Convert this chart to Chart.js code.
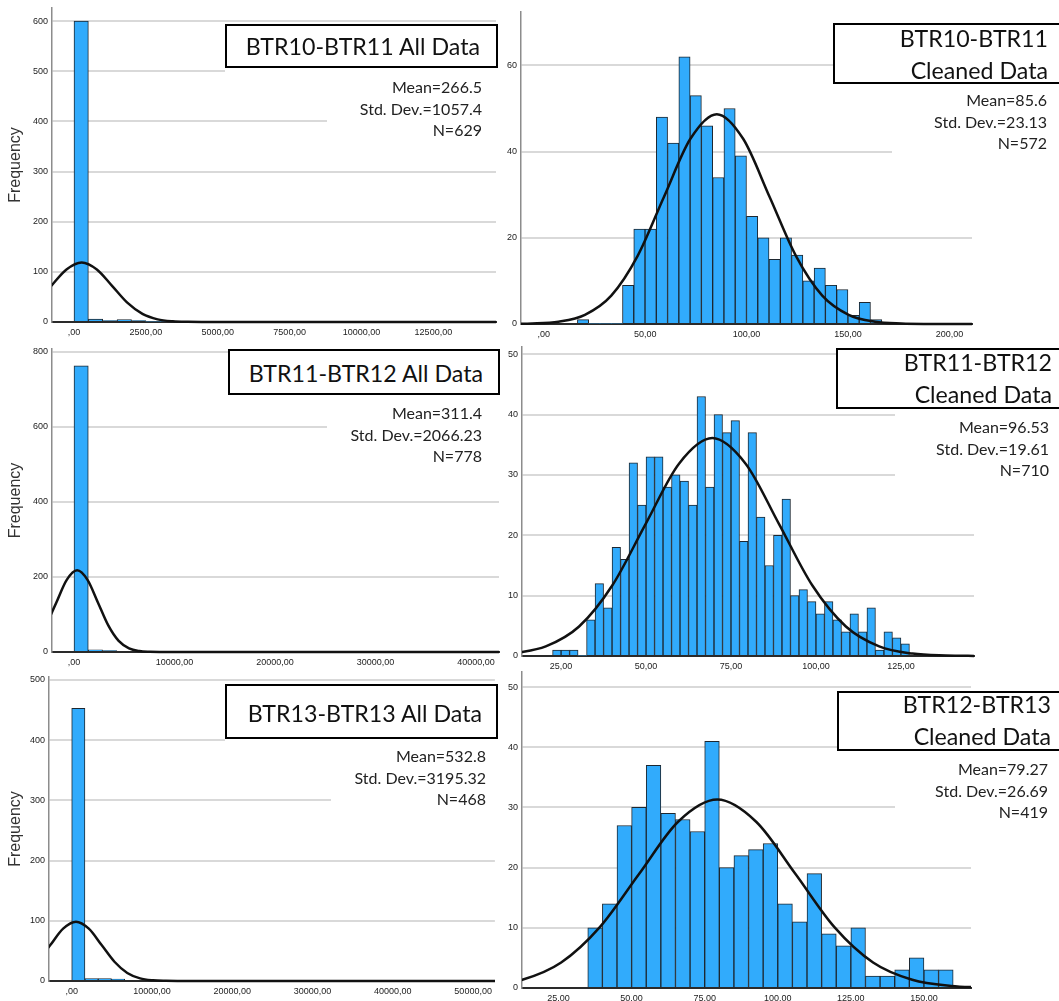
<!DOCTYPE html>
<html>
<head>
<meta charset="utf-8">
<script src="https://cdn.jsdelivr.net/npm/chart.js@4.4.1/dist/chart.umd.min.js"></script>
<style>
  html, body { margin: 0; padding: 0; background: #fff; }
  #page { position: relative; width: 1059px; height: 1001px; overflow: hidden; background: #fff; font-family: Lato, "Open Sans", sans-serif; }
  canvas { position: absolute; }
  .mask { position: absolute; background: #fff; }
  .box { position: absolute; background: #fff; border: 2px solid #000; box-sizing: border-box; }
  .ttl { position: absolute; font-size: 23.2px; line-height: 32px; color: #111; text-align: right; white-space: nowrap; }
  .stats { position: absolute; font-size: 16px; line-height: 21.5px; color: #222; text-align: right; white-space: nowrap; }
</style>
</head>
<body>
<div id="page">
  <!-- BTR10-BTR11 All Data -->
  <div class="mask" style="left:225px;top:24px;width:273px;height:50px"></div>
  <div class="mask" style="left:327px;top:74px;width:171px;height:67px"></div>
  <div class="box" style="left:225px;top:24px;width:273px;height:44px"></div>
  <div class="ttl" style="right:579px;top:30px">BTR10-BTR11 All Data</div>
  <div class="stats" style="right:577px;top:76px">Mean=266.5<br>Std. Dev.=1057.4<br>N=629</div>

  <!-- BTR10-BTR11 Cleaned Data -->
  <div class="mask" style="left:892px;top:86px;width:170px;height:71px"></div>
  <div class="box" style="left:833px;top:23px;width:240px;height:61px"></div>
  <div class="ttl" style="right:11px;top:22px">BTR10-BTR11<br>Cleaned Data</div>
  <div class="stats" style="right:12px;top:89px">Mean=85.6<br>Std. Dev.=23.13<br>N=572</div>

  <!-- BTR11-BTR12 All Data -->
  <div class="mask" style="left:327px;top:400px;width:173px;height:66px"></div>
  <div class="box" style="left:228px;top:349px;width:272px;height:46px"></div>
  <div class="ttl" style="right:576px;top:357px">BTR11-BTR12 All Data</div>
  <div class="stats" style="right:577px;top:402px">Mean=311.4<br>Std. Dev.=2066.23<br>N=778</div>

  <!-- BTR11-BTR12 Cleaned Data -->
  <div class="mask" style="left:895px;top:411px;width:170px;height:70px"></div>
  <div class="box" style="left:836px;top:348px;width:240px;height:61px"></div>
  <div class="ttl" style="right:7px;top:346px">BTR11-BTR12<br>Cleaned Data</div>
  <div class="stats" style="right:10px;top:416px">Mean=96.53<br>Std. Dev.=19.61<br>N=710</div>

  <!-- BTR13-BTR13 All Data -->
  <div class="mask" style="left:225px;top:684px;width:273px;height:59px"></div>
  <div class="mask" style="left:331px;top:743px;width:167px;height:69px"></div>
  <div class="box" style="left:225px;top:684px;width:273px;height:55px"></div>
  <div class="ttl" style="right:577px;top:697px">BTR13-BTR13 All Data</div>
  <div class="stats" style="right:573px;top:745px">Mean=532.8<br>Std. Dev.=3195.32<br>N=468</div>

  <!-- BTR12-BTR13 Cleaned Data -->
  <div class="mask" style="left:895px;top:754px;width:170px;height:62px"></div>
  <div class="box" style="left:837px;top:691px;width:240px;height:60px"></div>
  <div class="ttl" style="right:8px;top:688px">BTR12-BTR13<br>Cleaned Data</div>
  <div class="stats" style="right:11px;top:758px">Mean=79.27<br>Std. Dev.=26.69<br>N=419</div>
</div>
<script>
// ==================== DATA ====================
// BTR10-BTR11 all data: bins of 500 starting at 0
const btr1011AllCounts = [600, 6, 3, 5, 3, 0, 0, 0, 0, 1, 1];
const btr1011AllCurveX = [-1320, -791, -262, 266.5, 795, 1324, 1853, 2381, 2910, 3439, 3967, 4496, 5554, 15000];
const btr1011AllCurveY = [38.5, 72.0, 104.7, 118.7, 104.7, 72.0, 38.5, 16.1, 5.2, 1.3, 0.26, 0.04, 0, 0];
const btr1011AllXTicks = [0, 2500, 5000, 7500, 10000, 12500];
const btr1011AllXLabels = [',00', '2500,00', '5000,00', '7500,00', '10000,00', '12500,00'];
const btr1011AllYTicks = [0, 100, 200, 300, 400, 500, 600];

// BTR10-BTR11 cleaned: 27 bins of 5.556 starting at 16.6
const btr1011CleanCounts = [1, 0, 0, 0, 9, 22, 22, 48, 42, 62, 53, 46, 34, 50, 39, 25, 20, 15, 20, 16, 10, 13, 9, 8, 2, 5, 1];
const btr1011CleanCurveX = [-18.7, -5.7, 7.3, 20.3, 33.3, 46.3, 59.3, 72.3, 85.3, 98.3, 111.3, 124.3, 137.3, 150.3, 163.3, 176.3, 189.3, 215.3];
const btr1011CleanCurveY = [0.02, 0.11, 0.54, 2.14, 6.59, 15.81, 29.54, 42.98, 48.7, 42.98, 29.54, 15.81, 6.59, 2.14, 0.54, 0.11, 0.02, 0];
const btr1011CleanXTicks = [0, 50, 100, 150, 200];
const btr1011CleanXLabels = [',00', '50,00', '100,00', '150,00', '200,00'];
const btr1011CleanYTicks = [0, 20, 40, 60];

// BTR11-BTR12 all data: bins of 1420 starting at 0
const btr1112AllCounts = [763, 6, 4];
const btr1112AllCurveX = [-2788, -1755, -722, 311, 1345, 2378, 3411, 4444, 5477, 6510, 7543, 8576, 10642, 45000];
const btr1112AllCurveY = [70.8, 132.2, 192.4, 218, 192.4, 132.2, 70.8, 29.5, 9.6, 2.4, 0.5, 0.07, 0, 0];
const btr1112AllXTicks = [0, 10000, 20000, 30000, 40000];
const btr1112AllXLabels = [',00', '10000,00', '20000,00', '30000,00', '40000,00'];
const btr1112AllYTicks = [0, 200, 400, 600, 800];

// BTR11-BTR12 cleaned: bins of 2.5 starting at 22.5
const btr1112CleanCounts = [1, 1, 1, 0, 6, 12, 8, 18, 16, 32, 25, 33, 33, 28, 30, 29, 25, 43, 28, 40, 37, 39, 19, 37, 23, 15, 20, 26, 10, 11, 9, 7, 9, 6, 4, 7, 4, 8, 1, 4, 3, 2];
const btr1112CleanCurveX = [10.7, 20.5, 30.3, 40.1, 49.9, 59.7, 69.5, 79.3, 89.1, 98.9, 108.8, 118.6, 128.4, 138.2, 148.0];
const btr1112CleanCurveY = [0.40, 1.59, 4.89, 11.72, 21.90, 31.87, 36.11, 31.87, 21.90, 11.72, 4.89, 1.59, 0.40, 0.08, 0.01];
const btr1112CleanXTicks = [25, 50, 75, 100, 125];
const btr1112CleanXLabels = ['25,00', '50,00', '75,00', '100,00', '125,00'];
const btr1112CleanYTicks = [0, 10, 20, 30, 40, 50];

// BTR13-BTR13 all data: bins of 1650 starting at 0
const btr1313AllCounts = [453, 4, 4, 3];
const btr1313AllCurveX = [-4260, -2663, -1065, 533, 2131, 3728, 5326, 6923, 8521, 10119, 11716, 13314, 16509, 55000];
const btr1313AllCurveY = [32.0, 59.7, 86.9, 98.5, 86.9, 59.7, 32.0, 13.3, 4.3, 1.1, 0.22, 0.03, 0, 0];
const btr1313AllXTicks = [0, 10000, 20000, 30000, 40000, 50000];
const btr1313AllXLabels = [',00', '10000,00', '20000,00', '30000,00', '40000,00', '50000,00'];
const btr1313AllYTicks = [0, 100, 200, 300, 400, 500];

// BTR12-BTR13 cleaned: bins of 5 starting at 35
const btr1213CleanCounts = [10, 14, 27, 30, 37, 29, 28, 26, 41, 20, 22, 23, 24, 14, 11, 19, 9, 7, 10, 2, 2, 3, 5, 3, 3];
const btr1213CleanCurveX = [-0.8, 12.6, 25.9, 39.2, 52.6, 65.9, 79.3, 92.6, 106.0, 119.3, 132.6, 146.0, 159.3, 172.7];
const btr1213CleanCurveY = [0.35, 1.37, 4.24, 10.16, 18.98, 27.62, 31.3, 27.62, 18.98, 10.16, 4.24, 1.37, 0.35, 0.07];
const btr1213CleanXTicks = [25, 50, 75, 100, 125, 150];
const btr1213CleanXLabels = ['25,00', '50,00', '75,00', '100,00', '125,00', '150,00'];
const btr1213CleanYTicks = [0, 10, 20, 30, 40, 50];

// ==================== PANELS ====================
// area = pixel box of the plot (axis lines) on the page
const panels = [
  { counts: btr1011AllCounts, binStart: 0, binWidth: 500, curveX: btr1011AllCurveX, curveY: btr1011AllCurveY,
    xTicks: btr1011AllXTicks, xLabels: btr1011AllXLabels, yTicks: btr1011AllYTicks,
    xMin: -765, xMax: 14678, yMax: 626, area: { left: 52, top: 8, right: 496, bottom: 322 }, yw: 52, yTitle: true },
  { counts: btr1011CleanCounts, binStart: 16.6, binWidth: 5.556, curveX: btr1011CleanCurveX, curveY: btr1011CleanCurveY,
    xTicks: btr1011CleanXTicks, xLabels: btr1011CleanXLabels, yTicks: btr1011CleanYTicks,
    xMin: -11.2, xMax: 211.1, yMax: 72.4, area: { left: 521, top: 12, right: 972, bottom: 324 }, yw: 30 },
  { counts: btr1112AllCounts, binStart: 0, binWidth: 1420, curveX: btr1112AllCurveX, curveY: btr1112AllCurveY,
    xTicks: btr1112AllXTicks, xLabels: btr1112AllXLabels, yTicks: btr1112AllYTicks,
    xMin: -2189, xMax: 42290, yMax: 808, area: { left: 52, top: 349, right: 499, bottom: 652 }, yw: 52, yTitle: true },
  { counts: btr1112CleanCounts, binStart: 22.5, binWidth: 2.5, curveX: btr1112CleanCurveX, curveY: btr1112CleanCurveY,
    xTicks: btr1112CleanXTicks, xLabels: btr1112CleanXLabels, yTicks: btr1112CleanYTicks,
    xMin: 13.5, xMax: 146.5, yMax: 51.2, area: { left: 522, top: 347, right: 974, bottom: 656 }, yw: 30 },
  { counts: btr1313AllCounts, binStart: 0, binWidth: 1650, curveX: btr1313AllCurveX, curveY: btr1313AllCurveY,
    xTicks: btr1313AllXTicks, xLabels: btr1313AllXLabels, yTicks: btr1313AllYTicks,
    xMin: -2827, xMax: 52710, yMax: 505, area: { left: 49, top: 677, right: 495, bottom: 981 }, yw: 49, yTitle: true },
  { counts: btr1213CleanCounts, binStart: 35, binWidth: 5, curveX: btr1213CleanCurveX, curveY: btr1213CleanCurveY,
    xTicks: btr1213CleanXTicks, xLabels: btr1213CleanXLabels, yTicks: btr1213CleanYTicks,
    xMin: 12.5, xMax: 166.1, yMax: 52.5, area: { left: 522, top: 672, right: 971, bottom: 988 }, yw: 30 }
];

const tickFont = { size: 9, family: '"Liberation Sans", Arial, sans-serif' };
const page = document.getElementById('page');

function makePanel(p) {
  const padTop = 10, padRight = 2, xH = 22;
  const w = p.yw + (p.area.right - p.area.left) + padRight;
  const h = padTop + (p.area.bottom - p.area.top) + xH;
  const cv = document.createElement('canvas');
  cv.width = w; cv.height = h;
  cv.style.left = (p.area.left - p.yw) + 'px';
  cv.style.top = (p.area.top - padTop) + 'px';
  cv.style.width = w + 'px';
  cv.style.height = h + 'px';
  page.insertBefore(cv, page.firstChild);

  const bars = p.counts.map((c, i) => ({ x: p.binStart + (i + 0.5) * p.binWidth, y: c }));
  const curve = p.curveX.map((x, i) => ({ x: x, y: p.curveY[i] }));

  new Chart(cv, {
    type: 'bar',
    data: {
      datasets: [
        { type: 'line', data: curve, borderColor: '#111', borderWidth: 2.5, pointRadius: 0,
          cubicInterpolationMode: 'monotone', fill: false, order: 0,
          clip: { left: 0, top: 0, right: 0, bottom: 2 } },
        { type: 'bar', data: bars, backgroundColor: '#31abfc', borderColor: '#1d2730',
          borderWidth: ctx => (ctx.raw && ctx.raw.y > 0 ? 1 : 0),
          barPercentage: 1, categoryPercentage: 1, order: 1 }
      ]
    },
    options: {
      responsive: false,
      animation: false,
      devicePixelRatio: 1,
      layout: { padding: { top: padTop, right: padRight, left: 0, bottom: 0 } },
      plugins: { legend: { display: false }, tooltip: { enabled: false } },
      scales: {
        x: {
          type: 'linear', offset: false, min: p.xMin, max: p.xMax,
          grid: { display: false, drawTicks: false, offset: false },
          border: { color: '#2a2a2a', width: 2 },
          ticks: { padding: 5, color: '#222', font: tickFont, maxRotation: 0, autoSkip: false,
                   callback: (v, i) => p.xLabels[i] },
          afterBuildTicks: s => { s.ticks = p.xTicks.map(v => ({ value: v })); },
          afterFit: s => { s.height = xH; }
        },
        y: {
          type: 'linear', min: 0, max: p.yMax,
          grid: { color: '#d9d9d9', lineWidth: 2, drawTicks: false },
          border: { color: '#8c8c8c', width: 1.5 },
          ticks: { padding: 4, color: '#222', font: tickFont, callback: (v, i) => String(p.yTicks[i]) },
          afterBuildTicks: s => { s.ticks = p.yTicks.map(v => ({ value: v })); },
          afterFit: s => { s.width = p.yw; },
          title: { display: !!p.yTitle, text: 'Frequency', color: '#333', padding: { top: 6, bottom: 0 },
                   font: { size: 16, family: '"Liberation Sans", Arial, sans-serif' } }
        }
      }
    }
  });
}

panels.forEach(makePanel);
</script>
</body>
</html>
